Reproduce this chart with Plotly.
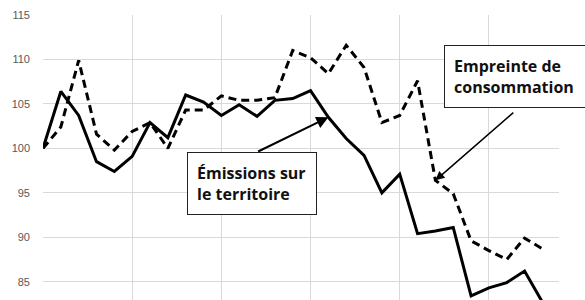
import plotly.graph_objects as go

years = list(range(1990, 2019))
territoire = [100.0, 106.4, 103.7, 98.5, 97.4, 99.1, 102.9, 101.2, 106.0, 105.2,
              103.7, 104.9, 103.6, 105.4, 105.6, 106.5, 103.5, 101.1, 99.2, 95.0,
              97.1, 90.4, 90.7, 91.1, 83.4, 84.3, 84.9, 86.2, 82.7]
empreinte = [100.0, 102.4, 109.9, 101.6, 99.8, 101.9, 102.9, 100.0, 104.3, 104.3,
             105.9, 105.4, 105.4, 105.7, 111.0, 110.2, 108.4, 111.6, 109.1, 102.9,
             103.7, 107.6, 96.4, 94.9, 89.6, 88.5, 87.5, 89.9, 88.7]
y_ticks = [85, 90, 95, 100, 105, 110, 115]
label_territoire = "Émissions sur<br>le territoire"
label_empreinte = "Empreinte de<br>consommation"

fig = go.Figure()
fig.add_trace(go.Scatter(x=years, y=empreinte, mode="lines",
                         line=dict(color="black", width=3, dash="8px,5px")))
fig.add_trace(go.Scatter(x=years, y=territoire, mode="lines",
                         line=dict(color="black", width=3)))

box_font = dict(family="Open Sans", size=16, color="#111111", weight="bold")
fig.add_annotation(x=1998.06, y=99.62, xref="x", yref="y", xanchor="left", yanchor="top",
                   text=label_territoire, showarrow=False, align="left", font=box_font,
                   bgcolor="white", bordercolor="#222222", borderwidth=1, borderpad=9,
                   width=110)
fig.add_annotation(x=2012.47, y=111.63, xref="x", yref="y", xanchor="left", yanchor="top",
                   text=label_empreinte, showarrow=False, align="left", font=box_font,
                   bgcolor="white", bordercolor="#222222", borderwidth=1, borderpad=9,
                   width=160)
fig.add_annotation(x=years[16], y=territoire[16], xref="x", yref="y", text="",
                   showarrow=True, ax=-71.7, ay=35, arrowhead=2, arrowsize=1.2,
                   arrowwidth=2, arrowcolor="black", standoff=0)
fig.add_annotation(x=years[22], y=empreinte[22], xref="x", yref="y", text="",
                   showarrow=True, ax=79.4, ay=-69, arrowhead=2, arrowsize=1.2,
                   arrowwidth=1.5, arrowcolor="black", standoff=0)

fig.update_layout(
    width=585, height=300,
    margin=dict(l=42.7, r=25.7, t=15, b=0),
    paper_bgcolor="white", plot_bgcolor="white",
    showlegend=False,
)
fig.update_xaxes(range=[1990, 2018.93], tickvals=[1990, 1995, 2000, 2005, 2010, 2015],
                 showticklabels=False, showgrid=True, gridcolor="#d9d9d9", gridwidth=1,
                 zeroline=False, showline=False, ticks="")
fig.update_yaxes(range=[82.94, 115], tickvals=y_ticks, showgrid=True,
                 gridcolor="#d9d9d9", gridwidth=1, zeroline=False, showline=False,
                 ticks="", ticklabelstandoff=12,
                 tickfont=dict(family="Liberation Sans", size=11, color="#595959"))

fig.write_html("out.html")
